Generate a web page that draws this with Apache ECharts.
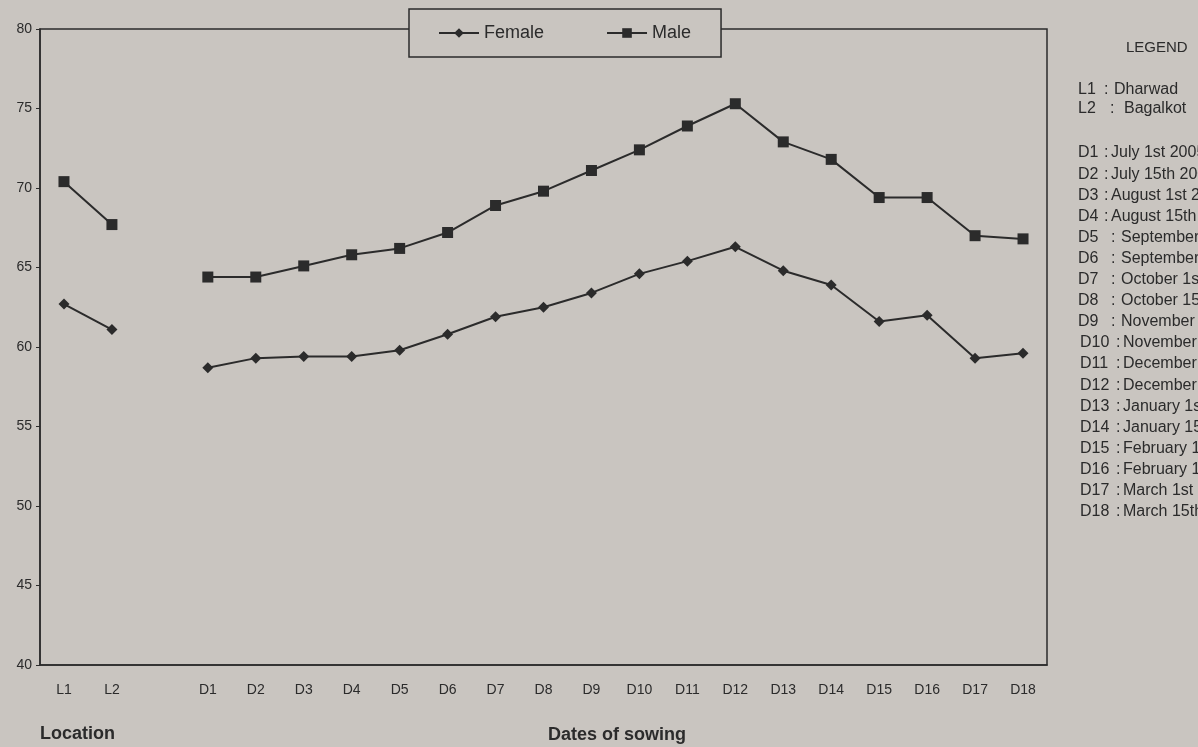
<!DOCTYPE html>
<html>
<head>
<meta charset="utf-8">
<script src="https://cdn.jsdelivr.net/npm/echarts@6/dist/echarts.min.js"></script>
<style>
  html, body { margin: 0; padding: 0; background: #c9c5c0; }
  #chart { width: 1198px; height: 747px; }
</style>
</head>
<body>
<div id="chart"></div>
<script>
// categories (blank slot separates locations from sowing dates)
var categories = ['L1', 'L2', '', 'D1', 'D2', 'D3', 'D4', 'D5', 'D6', 'D7', 'D8', 'D9',
  'D10', 'D11', 'D12', 'D13', 'D14', 'D15', 'D16', 'D17', 'D18'];

var femaleValues = [62.7, 61.1, null, 58.7, 59.3, 59.4, 59.4, 59.8, 60.8, 61.9, 62.5, 63.4,
  64.6, 65.4, 66.3, 64.8, 63.9, 61.6, 62.0, 59.3, 59.6];
var maleValues = [70.4, 67.7, null, 64.4, 64.4, 65.1, 65.8, 66.2, 67.2, 68.9, 69.8, 71.1,
  72.4, 73.9, 75.3, 72.9, 71.8, 69.4, 69.4, 67.0, 66.8];

var yTicks = { min: 40, max: 80, step: 5 };

var keyLocations = [['L1', 'Dharwad'], ['L2', 'Bagalkot']];
var keyDates = [
  ['D1', 'July 1st 2005'], ['D2', 'July 15th 2005'], ['D3', 'August 1st 2005'],
  ['D4', 'August 15th 2005'], ['D5', 'September 1st'], ['D6', 'September 15th'],
  ['D7', 'October 1st'], ['D8', 'October 15th'], ['D9', 'November 1st'],
  ['D10', 'November 15th'], ['D11', 'December 1st'], ['D12', 'December 15th'],
  ['D13', 'January 1st'], ['D14', 'January 15th'], ['D15', 'February 1st'],
  ['D16', 'February 15th'], ['D17', 'March 1st'], ['D18', 'March 15th']
];

var ink = '#2b2b2b';
var font = 'Liberation Sans, Arial, sans-serif';

function txt(x, y, s, f) {
  return { type: 'text', left: x, top: y, style: { text: s, fill: ink, font: f || ('16px ' + font) } };
}

/**
 * 右侧文字图例 + 轴标题
 */
function buildKey() {
  var items = [];
  items.push(txt(1126, 40, 'LEGEND', '15px ' + font));
  items.push(txt(1078, 82, keyLocations[0][0]));
  items.push(txt(1104, 82, ':'));
  items.push(txt(1114, 82, keyLocations[0][1]));
  items.push(txt(1078, 101, keyLocations[1][0]));
  items.push(txt(1110, 101, ':'));
  items.push(txt(1124, 101, keyLocations[1][1]));
  keyDates.forEach(function (d, i) {
    var y = 145 + i * 21.1;
    var colonX = i < 4 ? 1104 : (i < 9 ? 1111 : 1116);
    var textX = i < 4 ? 1111 : (i < 9 ? 1121 : 1123);
    items.push(txt(i < 9 ? 1078 : 1080, y, d[0]));
    items.push(txt(colonX, y, ':'));
    items.push(txt(textX, y, d[1]));
  });
  items.push(txt(40, 725, 'Location', 'bold 18px ' + font));
  items.push(txt(548, 726, 'Dates of sowing', 'bold 18px ' + font));
  return items;
}

var chart = echarts.init(document.getElementById('chart'));
chart.setOption({
  backgroundColor: '#c9c5c0',
  animation: false,
  textStyle: { fontFamily: font },
  grid: {
    left: 40, top: 29, width: 1007, height: 636,
    show: true, borderColor: ink, borderWidth: 1.5, backgroundColor: 'transparent'
  },
  legend: {
    left: 409, top: 9,
    padding: [15, 30, 15, 29],
    itemWidth: 40, itemHeight: 12, itemGap: 62,
    borderColor: ink, borderWidth: 1.5,
    backgroundColor: '#c9c5c0',
    textStyle: { color: ink, fontSize: 18, fontFamily: font },
    data: ['Female', 'Male']
  },
  xAxis: {
    type: 'category',
    data: categories,
    boundaryGap: true,
    axisLine: { lineStyle: { color: ink, width: 1.5 } },
    axisTick: { show: false },
    axisLabel: { interval: 0, color: ink, fontSize: 14, margin: 18 }
  },
  yAxis: {
    type: 'value',
    min: yTicks.min, max: yTicks.max, interval: yTicks.step,
    splitLine: { show: false },
    axisLine: { show: true, lineStyle: { color: ink, width: 1.5 } },
    axisTick: { show: true, length: 4, lineStyle: { color: ink } },
    axisLabel: { color: ink, fontSize: 14, margin: 8 }
  },
  series: [
    {
      name: 'Female', type: 'line', data: femaleValues,
      connectNulls: false,
      symbol: 'diamond', symbolSize: 11,
      itemStyle: { color: ink },
      lineStyle: { color: ink, width: 2 }
    },
    {
      name: 'Male', type: 'line', data: maleValues,
      connectNulls: false,
      symbol: 'rect', symbolSize: 11,
      itemStyle: { color: ink },
      lineStyle: { color: ink, width: 2 }
    }
  ],
  graphic: buildKey()
});
</script>
</body>
</html>
